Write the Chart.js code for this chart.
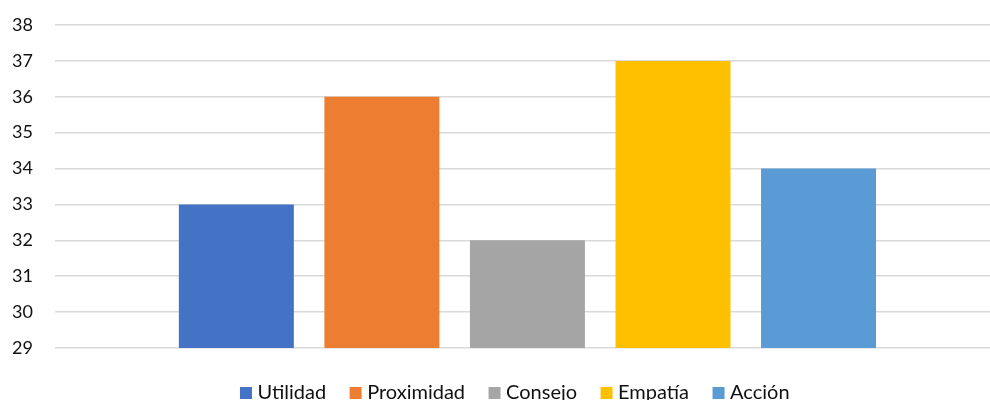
<!DOCTYPE html>
<html>
<head>
<meta charset="utf-8">
<script src="https://cdn.jsdelivr.net/npm/chart.js@4/dist/chart.umd.min.js"></script>
<style>
  html, body { margin: 0; padding: 0; background: #fff; overflow: hidden; }
  #wrap { position: relative; width: 1000px; height: 413px; }
</style>
</head>
<body>
<div id="wrap"><canvas id="chart"></canvas></div>
<script>
// one category, one dataset per attribute
const categories = [''];
const seriesNames = ['Utilidad', 'Proximidad', 'Consejo', 'Empatía', 'Acción'];
const seriesValues = [33, 36, 32, 37, 34];
const seriesColors = ['#4472C4', '#ED7D31', '#A5A5A5', '#FFC000', '#5B9BD5'];
const yTicks = [29, 30, 31, 32, 33, 34, 35, 36, 37, 38];

const FONT = "Lato, 'Open Sans', sans-serif";
const LEGEND_CENTER = 517;

const datasets = seriesNames.map((name, i) => ({
    label: name,
    data: [seriesValues[i]],
    backgroundColor: seriesColors[i],
    borderWidth: 0,
    barPercentage: 0.79,
    categoryPercentage: 0.77
}));

// centre the legend row on a fixed x instead of the canvas middle
const legendShift = {
    id: 'legendShift',
    afterLayout(chart) {
        const lg = chart.legend;
        lg.right = 2 * LEGEND_CENTER - lg.left;
        lg.width = lg.right - lg.left;
    }
};

new Chart(document.getElementById('chart').getContext('2d'), {
    type: 'bar',
    data: { labels: categories, datasets },
    plugins: [legendShift],
    options: {
        responsive: true,
        maintainAspectRatio: false,
        animation: false,
        layout: { padding: { left: -10, top: 25, right: 0, bottom: 0 } },
        plugins: {
            tooltip: { enabled: false },
            legend: {
                position: 'bottom',
                labels: {
                    color: '#111',
                    usePointStyle: true,
                    pointStyle: 'rect',
                    // narrow slot keeps the square close to its text
                    boxWidth: 3,
                    boxHeight: 12,
                    padding: 28,
                    font: { family: FONT, size: 20 }
                }
            }
        },
        scales: {
            x: {
                grid: { display: false },
                border: { display: false },
                ticks: { display: false },
                afterFit: axis => { axis.height = 7; }
            },
            y: {
                min: yTicks[0],
                max: yTicks[yTicks.length - 1],
                afterBuildTicks: axis => { axis.ticks = yTicks.map(v => ({ value: v })); },
                afterFit: axis => { axis.paddingTop = 0; axis.paddingBottom = 0; },
                grid: { color: '#d9d9d9', lineWidth: 1.5, drawTicks: false },
                border: { display: false },
                ticks: {
                    color: '#111',
                    padding: 22,
                    font: { family: FONT, size: 18 }
                }
            }
        }
    }
});
</script>
</body>
</html>
